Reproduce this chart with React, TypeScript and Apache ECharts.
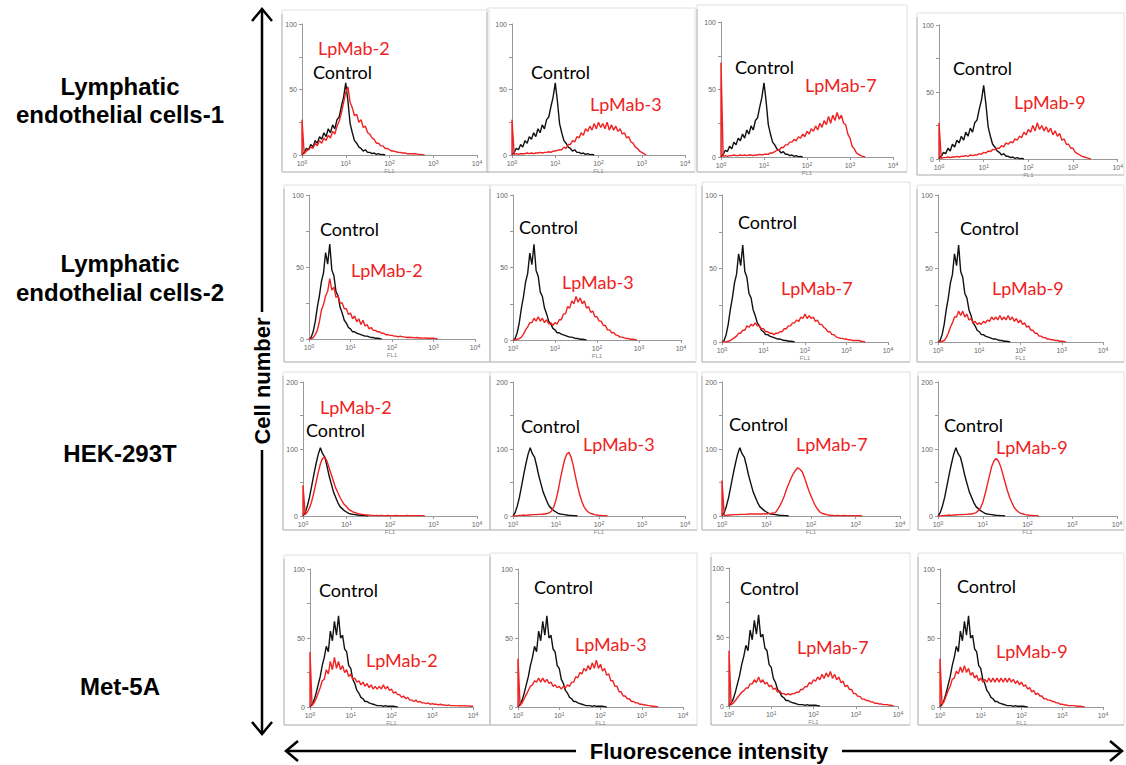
import React, { useEffect, useRef } from "react";
import * as echarts from "echarts";

// ---------- data ----------
// histogram values sampled every STEP decades on the FL1 axis, starting at 10^0
const STEP = 0.05;
const X_TICK_EXPONENTS = ["0", "1", "2", "3", "4"];
const CELL_LINES = [
  ["Lymphatic", "endothelial cells-1"],
  ["Lymphatic", "endothelial cells-2"],
  ["HEK-293T"],
  ["Met-5A"],
];
const ANTIBODIES = ["LpMab-2", "LpMab-3", "LpMab-7", "LpMab-9"];
const Y_MAX = [100, 100, 200, 100];

const CONTROL_LEC1 = [0,2,5,4,8,6,11,9,14,12,17,14,20,17,23,20,27,29,37,44,55,41,24,17,11,9,6,5,3,4,2,2,1,1.5,0.5,1,0.3,0.5,0];
const LEC1_LPMAB2 = [27,1,3,4,6,5,9,7,11,9,13,11,15,13,18,16,22,26,32,40,48,52,40,36,30,31,25,27,21,22,17,16,13,12,9,9,7,7,5,5,4,3,3,2.5,2,2,1.5,1.5,1,1,1,0.8,1,0.5,0.5,0.3,0];
const LEC1_LPMAB3 = [27,0.5,1,0.5,1,1,1,1.5,1,1.5,1,1.5,1.5,2,1.5,2,2,2.5,2,3,3,3.5,4,4,6,5,8,8,11,10,14,13,17,15,20,18,22,19,24,20,25,21,24,20,25,19,23,19,22,18,20,16,17,13,14,10,9,6,5,3,2,1,0];
const LEC1_LPMAB7 = [70,0.5,1,0.5,1,1,1.5,1,1,1.5,1,1.5,1,1.5,1.5,1,1.5,1.5,2,1.5,2,2,2,3,3,4,5,5,7,7,9,9,11,11,13,12,15,14,17,15,19,17,21,19,23,20,25,22,27,24,30,25,31,27,33,28,31,25,24,17,14,8,6,3,2,1,0.5,0];
const LEC1_LPMAB9 = [27,0.5,1,1,1.5,1,1.5,1.5,2,1.5,2,2,2.5,2,3,2.5,3,3,4,3.5,5,4.5,6,5.5,7,7,8,8,10,9,12,11,13,12,15,14,17,16,20,18,22,20,25,21,27,22,25,21,24,20,23,18,21,17,19,14,15,11,11,8,8,5,4,3,2,1.5,1,0.5,0];

const CONTROL_LEC2 = [0,1,5,12,22,30,40,46,60,52,66,48,44,33,30,22,18,13,11,8,7,5,5,4,3.5,3,2.5,2,2,1.5,1,1,0.5,0.5,0.3,0];
const LEC2_LPMAB2 = [0,0,1,3,6,12,20,24,30,33,42,34,36,29,30,25,25,21,21,17,18,14,16,12,14,10,13,9,10,7,8,6,6,5,5,4,4,3,3,2.5,2.5,2,2,1.5,2,1.5,1.5,1,1.2,1,1,0.8,1,0.7,0.8,0.6,0.7,0.5,0.6,0.5,0.6,0.3,0];
const LEC2_LPMAB3 = [0,0,0.5,1,2,4,7,9,12,12,15,13,16,13,15,12,14,11,12,10,12,11,14,14,18,18,23,22,27,25,30,26,29,25,27,22,23,19,20,16,16,13,13,10,10,7,7,5,5,3.5,3,2,2,1.5,1,1,0.5,0.5,0.3,0];
const LEC2_LPMAB7 = [0,0,0,0.5,1,2,3,4,6,6,8,8,11,10,12,11,13,11,11,9,9,7,7,6,6,5,6,6,7,7,9,9,11,11,13,13,15,14,17,16,19,16,18,16,17,14,15,12,12,10,9,7,7,5,5,3.5,3,2.5,2.5,2,2,1.5,1.5,1,1,1,1,0.5,0.3,0];
const LEC2_LPMAB9 = [0,0,0.5,1,3,6,10,13,17,17,21,18,21,17,19,15,16,13,14,12,13,12,14,13,15,14,17,15,17,15,18,15,17,15,18,15,17,14,16,13,15,12,13,10,11,8,8,6,6,4,4,3,3,2,2,1.5,1.5,1,1,0.5,0.5,0.3,0];

const CONTROL_HEK = [0,5,15,28,45,62,78,92,102,93,88,75,60,48,36,28,20,14,11,8,6,4,3,2.5,2,1.5,1,1,0.5,0.5,0];
const HEK_LPMAB2 = [46,2,6,12,22,35,50,65,78,86,88,82,72,62,52,42,35,28,22,17,14,10,8,6,5,4,3,2.5,2,1.5,1.5,1,1,0.5,1,0.5,1,0.5,0.5,1,0.5,0.5,0.5,1,0.5,0.5,0.5,0.5,1,0.5,0.5,0.5,0.5,0.5,0.5,0.3,0];
const HEK_LPMAB3 = [0,0,0.5,1,1,1.5,1,1.5,1.5,2,2,2,2.5,2.5,3,3,4,5,8,14,24,38,55,70,84,92,95,88,76,60,45,32,22,14,9,6,4,3,2,1.5,1,1,0.5,0.5,0];
const HEK_LPMAB7 = [53,1,1,1.5,1.5,2,2,2,2.5,2.5,2.5,2.5,3,3,3,3,3,3,3,3.5,3,3.5,4,4.5,5,10,15,22,30,40,48,56,63,68,72,70,66,58,48,38,30,22,15,10,6,4,3,2,1.5,1,1,0.5,1,0.5,0.5,1,0.5,0.5,0.5,0.5,0.5,0.5,0.3,0];
const HEK_LPMAB9 = [0,0,0.5,1,1,1.5,1,1.5,1.5,2,2,2,2.5,2.5,3,3,4,5,8,12,20,32,46,60,74,82,86,82,74,62,50,38,28,20,13,9,6,4,3,2,1.5,1,1,0.5,0.5,0];

const CONTROL_MET = [0,2,5,10,16,22,30,36,44,40,55,48,62,52,66,50,52,42,40,30,28,20,17,12,10,7,6,4,4,3,2.5,2,1.5,1,1,1,0.5,1,0.5,0.5,0.5,0.5,0.3,0];
const MET_LPMAB2 = [40,1,3,6,10,14,19,20,27,24,33,27,36,28,33,27,30,25,27,22,24,20,21,18,19,16,18,15,17,14,16,13,15,13,15,13,16,13,15,12,13,10,11,9,9,7,8,6,7,5,5,4,5,3.5,4,3,3,2.5,3,2,2.5,2,2,1.5,2,1.5,1.5,1,1.5,1,1,1,1,0.8,1,0.8,1,0.6,0.8,0.5,0.5];
const MET_LPMAB3 = [35,1,3,6,9,12,15,16,19,18,21,18,21,18,20,17,18,15,16,14,15,13,15,14,16,15,18,18,22,21,25,24,28,26,30,27,32,28,34,28,31,26,28,23,24,19,19,15,15,11,11,8,8,6,6,4,4,3,3,2,2,1.5,1.5,1,1,0.5,0.5,0.3,0];
const MET_LPMAB7 = [40,1,2,4,6,8,10,11,13,13,16,16,19,17,21,17,19,16,17,14,15,12,13,10,11,9,9,8,9,8,9,9,10,10,12,12,14,14,17,16,19,18,21,19,23,20,24,21,25,20,23,19,21,17,18,14,15,12,12,9,9,7,7,5,5,4,4,3,3,2,2,1.5,1.5,1,1,1,0.5,0.5,0];
const MET_LPMAB9 = [35,2,4,8,12,15,20,21,26,24,29,25,30,25,28,23,25,21,23,19,21,18,20,18,21,18,21,18,21,18,21,18,21,18,21,18,20,17,19,16,18,15,16,13,14,11,12,9,10,8,8,6,6,5,5,4,4,3,3,2,2,1.5,1.5,1,1,1,1,0.5,0.5,0.5,0.3,0];

const CONTROLS = [CONTROL_LEC1, CONTROL_LEC2, CONTROL_HEK, CONTROL_MET];
const SAMPLES = [
  [LEC1_LPMAB2, LEC1_LPMAB3, LEC1_LPMAB7, LEC1_LPMAB9],
  [LEC2_LPMAB2, LEC2_LPMAB3, LEC2_LPMAB7, LEC2_LPMAB9],
  [HEK_LPMAB2, HEK_LPMAB3, HEK_LPMAB7, HEK_LPMAB9],
  [MET_LPMAB2, MET_LPMAB3, MET_LPMAB7, MET_LPMAB9],
];

// ---------- layout ----------
const FRAMES = [
  [282, 10, 207, 162], [487, 8, 208, 164], [697, 5, 210, 167], [917, 13, 207, 162],
  [284, 185, 206, 177], [490, 185, 206, 177], [702, 182, 208, 180], [917, 185, 207, 177],
  [283, 372, 207, 158], [490, 372, 207, 158], [702, 372, 208, 158], [918, 372, 206, 158],
  [284, 555, 206, 170], [490, 553, 207, 172], [711, 553, 199, 172], [918, 553, 206, 172],
];
const PLOTS = [
  [302, 24, 477, 155], [512, 24, 685, 155], [721, 22, 893, 157], [939, 25, 1118, 159],
  [309, 195, 475, 339], [513, 195, 681, 340], [722, 195, 888, 342], [938, 195, 1103, 342],
  [303, 382, 477, 516], [513, 382, 685, 516], [722, 382, 900, 516], [938, 382, 1117, 516],
  [310, 569, 473, 707], [518, 569, 683, 707], [729, 568, 898, 706], [940, 569, 1103, 707],
];
// [control label, sample label] left / middle positions
const LABELS = [
  [[313, 72], [318, 48]], [[531, 72], [590, 104]], [[735, 67], [805, 85]], [[953, 68], [1014, 102]],
  [[320, 229], [351, 270]], [[519, 227], [562, 282]], [[738, 222], [781, 288]], [[960, 228], [992, 288]],
  [[306, 430], [320, 407]], [[521, 426], [583, 444]], [[729, 424], [796, 444]], [[944, 425], [996, 447]],
  [[319, 590], [366, 660]], [[534, 587], [575, 644]], [[740, 588], [797, 647]], [[957, 586], [996, 651]],
];
const ROW_LABEL_Y = [[86, 114], [263, 292], [453], [686]];

const RED = "#ee2222";
const LABEL_FONT = "Lato, 'Open Sans', sans-serif";
const BOLD_FONT = "'Liberation Sans', Arial, sans-serif";

function toPoints(values: number[]) {
  const pts: number[][] = [[1, 0]];
  values.forEach((v, i) => pts.push([Math.pow(10, i * STEP), v]));
  return pts;
}

function buildOption() {
  const grid: any[] = [];
  const xAxis: any[] = [];
  const yAxis: any[] = [];
  const series: any[] = [];
  const graphic: any[] = [];

  for (let r = 0; r < 4; r++) {
    for (let c = 0; c < 4; c++) {
      const k = r * 4 + c;
      const [l, t, rr, b] = PLOTS[k];
      const yMax = Y_MAX[r];
      grid.push({ left: l, top: t, width: rr - l, height: b - t, containLabel: false });
      xAxis.push({
        type: "log",
        gridIndex: k,
        logBase: 10,
        min: 1,
        max: 10000,
        splitNumber: 4,
        name: "FL1",
        nameLocation: "middle",
        nameGap: 11,
        nameTextStyle: { fontSize: 6, color: "#888", fontFamily: BOLD_FONT },
        axisLine: { lineStyle: { color: "#999", width: 1 } },
        axisTick: { show: true, length: 3, lineStyle: { color: "#999" } },
        splitLine: { show: false },
        axisLabel: {
          fontSize: 7,
          color: "#666",
          margin: 4,
          fontFamily: BOLD_FONT,
          formatter: (v: number) => {
            const e = X_TICK_EXPONENTS[Math.round(Math.log10(v))];
            return e === undefined ? "" : "10{s|" + e + "}";
          },
          rich: { s: { fontSize: 5, color: "#666", verticalAlign: "top", padding: [0, 0, 4, 0] } },
        },
      });
      yAxis.push({
        type: "value",
        gridIndex: k,
        min: 0,
        max: yMax,
        interval: yMax / 4,
        axisLine: { show: true, lineStyle: { color: "#999", width: 1 } },
        axisTick: { show: true, length: 3, lineStyle: { color: "#999" } },
        splitLine: { show: false },
        axisLabel: {
          fontSize: 7,
          color: "#666",
          margin: 5,
          fontFamily: BOLD_FONT,
          formatter: (v: number) => (v % (yMax / 2) === 0 ? String(v) : ""),
        },
      });
      series.push({
        type: "line",
        xAxisIndex: k,
        yAxisIndex: k,
        data: toPoints(CONTROLS[r]),
        showSymbol: false,
        symbol: "none",
        lineStyle: { color: "#111", width: 1.4 },
        z: 2,
      });
      series.push({
        type: "line",
        xAxisIndex: k,
        yAxisIndex: k,
        data: toPoints(SAMPLES[r][c]),
        showSymbol: false,
        symbol: "none",
        lineStyle: { color: RED, width: 1.4 },
        z: 3,
      });

      const [fx, fy, fw, fh] = FRAMES[k];
      graphic.push({
        type: "rect",
        shape: { x: fx, y: fy, width: fw, height: fh },
        style: { fill: null, stroke: "#e0e0e0", lineWidth: 1 },
        z: 0,
      });
      graphic.push({
        type: "polyline",
        shape: { points: [[fx, fy + 4], [fx, fy + fh], [fx + fw, fy + fh]] },
        style: { fill: null, stroke: "#b8b8b8", lineWidth: 1 },
        z: 0,
      });
      const [cp, sp] = LABELS[k];
      graphic.push({
        type: "text",
        x: cp[0],
        y: cp[1],
        z: 100,
        style: { text: "Control", fill: "#000", fontSize: 18, fontFamily: LABEL_FONT, verticalAlign: "middle", align: "left" },
      });
      graphic.push({
        type: "text",
        x: sp[0],
        y: sp[1],
        z: 100,
        style: { text: ANTIBODIES[c], fill: RED, fontSize: 18, fontFamily: LABEL_FONT, verticalAlign: "middle", align: "left" },
      });
    }
    CELL_LINES[r].forEach((line, i) => {
      graphic.push({
        type: "text",
        x: 120,
        y: ROW_LABEL_Y[r][i],
        z: 100,
        style: { text: line, fill: "#000", fontSize: 24, fontWeight: "bold", fontFamily: BOLD_FONT, align: "center", verticalAlign: "middle" },
      });
    });
  }

  // axes arrows
  const arrowStyle = { stroke: "#000", lineWidth: 2.5, fill: null };
  graphic.push({ type: "line", shape: { x1: 262, y1: 9, x2: 262, y2: 312 }, style: arrowStyle, z: 100 });
  graphic.push({ type: "line", shape: { x1: 262, y1: 450, x2: 262, y2: 734 }, style: arrowStyle, z: 100 });
  graphic.push({ type: "polyline", shape: { points: [[252, 21], [262, 9], [272, 21]] }, style: arrowStyle, z: 100 });
  graphic.push({ type: "polyline", shape: { points: [[252, 722], [262, 734], [272, 722]] }, style: arrowStyle, z: 100 });
  graphic.push({
    type: "text",
    x: 262,
    y: 381,
    rotation: Math.PI / 2,
    z: 100,
    style: { text: "Cell number", fill: "#000", fontSize: 22, fontWeight: "bold", fontFamily: BOLD_FONT, align: "center", verticalAlign: "middle" },
  });
  graphic.push({ type: "line", shape: { x1: 286, y1: 751, x2: 576, y2: 751 }, style: arrowStyle, z: 100 });
  graphic.push({ type: "line", shape: { x1: 842, y1: 751, x2: 1122, y2: 751 }, style: arrowStyle, z: 100 });
  graphic.push({ type: "polyline", shape: { points: [[298, 741], [286, 751], [298, 761]] }, style: arrowStyle, z: 100 });
  graphic.push({ type: "polyline", shape: { points: [[1110, 741], [1122, 751], [1110, 761]] }, style: arrowStyle, z: 100 });
  graphic.push({
    type: "text",
    x: 709,
    y: 751,
    z: 100,
    style: { text: "Fluorescence intensity", fill: "#000", fontSize: 22, fontWeight: "bold", fontFamily: BOLD_FONT, align: "center", verticalAlign: "middle" },
  });

  return {
    animation: false,
    backgroundColor: "#fff",
    grid,
    xAxis,
    yAxis,
    series,
    graphic,
  };
}

export default function App() {
  const ref = useRef<HTMLDivElement>(null);
  useEffect(() => {
    if (!ref.current) return;
    const chart = echarts.init(ref.current, undefined, { renderer: "svg" });
    chart.setOption(buildOption() as any);
    return () => chart.dispose();
  }, []);
  return (
    <div
      ref={ref}
      style={{ position: "absolute", left: 0, top: 0, width: 1126, height: 765 }}
    />
  );
}
